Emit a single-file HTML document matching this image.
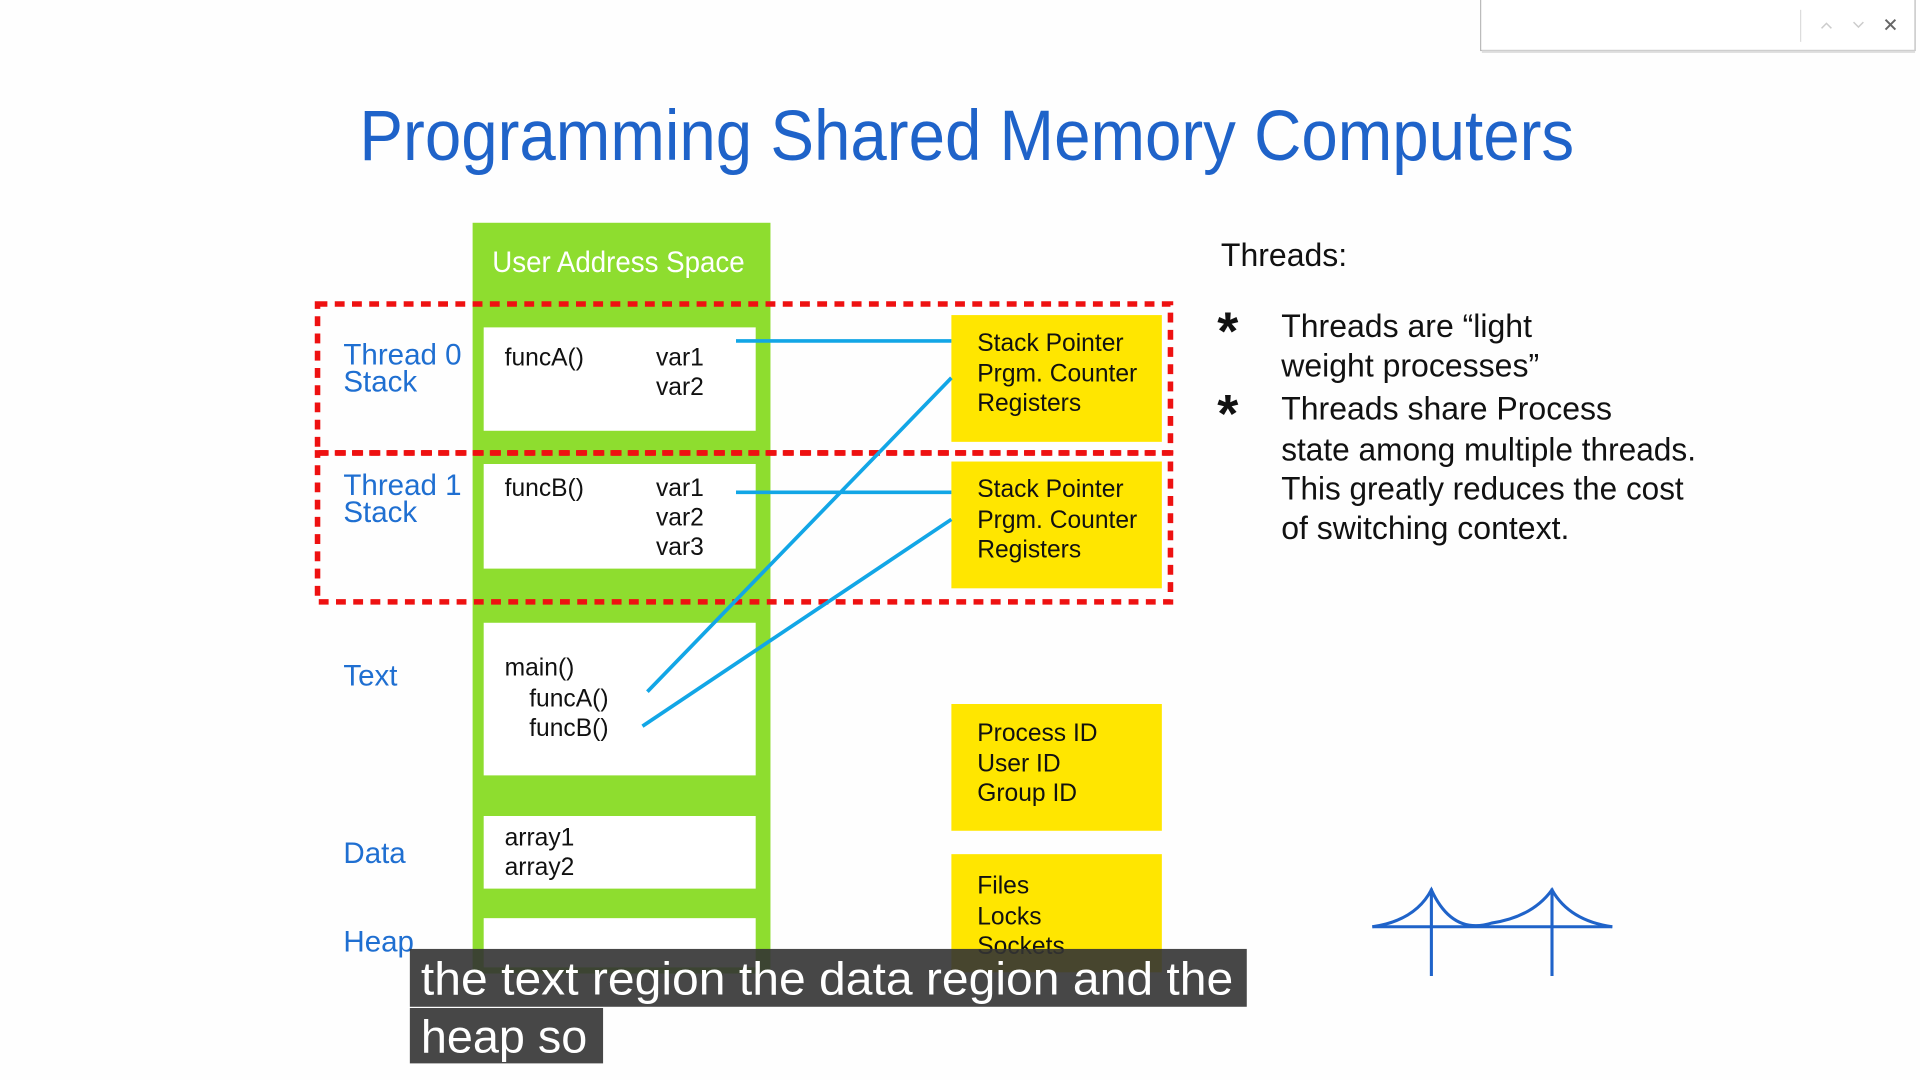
<!DOCTYPE html>
<html><head><meta charset="utf-8"><style>
html,body{margin:0;padding:0;background:#fff;width:1920px;height:1080px;overflow:hidden}
svg{display:block}
text{font-family:"Liberation Sans",sans-serif}
</style></head><body>
<svg width="1920" height="1080" viewBox="0 0 1560 877.5" xmlns="http://www.w3.org/2000/svg">
<rect width="1560" height="878" fill="#fefefe"/>
<rect x="1203" y="-2" width="353" height="43" fill="#fff" stroke="#bbb" stroke-width="1"/>
<rect x="1204" y="41" width="352" height="2" fill="#ddd"/>
<line x1="1463" y1="8" x2="1463" y2="34" stroke="#ddd"/>
<polyline points="1480,23 1484,19 1488,23" fill="none" stroke="#ccc" stroke-width="1.2"/>
<polyline points="1506,18 1510,22 1514,18" fill="none" stroke="#ccc" stroke-width="1.2"/>
<path d="M1532,16 L1540,24 M1540,16 L1532,24" stroke="#666" stroke-width="1.6"/>
<text x="292" y="130" font-size="58" fill="#1f63c9" textLength="987" lengthAdjust="spacingAndGlyphs">Programming Shared Memory Computers</text>
<rect x="384" y="181" width="242" height="610" fill="#8edd2f"/>
<text x="400" y="221" font-size="24" fill="#fff" textLength="205" lengthAdjust="spacingAndGlyphs">User Address Space</text>
<rect x="393" y="266" width="221" height="84" fill="#fff"/>
<rect x="393" y="377" width="221" height="85" fill="#fff"/>
<rect x="393" y="506" width="221" height="124" fill="#fff"/>
<rect x="393" y="663" width="221" height="59" fill="#fff"/>
<rect x="393" y="746" width="221" height="40" fill="#fff"/>
<rect x="773" y="256" width="171" height="103" fill="#ffe600"/>
<rect x="773" y="375" width="171" height="103" fill="#ffe600"/>
<rect x="773" y="572" width="171" height="103" fill="#ffe600"/>
<rect x="773" y="694" width="171" height="96" fill="#ffe600"/>
<g fill="none" stroke="#ee1111" stroke-width="4.5" stroke-dasharray="8 6">
<rect x="258" y="247" width="693" height="121"/>
<rect x="258" y="368" width="693" height="121"/>
</g>
<g stroke="#12a6e6" stroke-width="3">
<line x1="598" y1="277" x2="773" y2="277"/>
<line x1="598" y1="400" x2="773" y2="400"/>
<line x1="526" y1="562" x2="773" y2="307"/>
<line x1="522" y1="590" x2="773" y2="422"/>
</g>
<g font-size="24" fill="#1f6fd1">
<text x="279" y="296">Thread 0</text><text x="279" y="318">Stack</text>
<text x="279" y="402">Thread 1</text><text x="279" y="424">Stack</text>
<text x="279" y="557">Text</text>
<text x="279" y="701">Data</text>
<text x="279" y="773">Heap</text>
</g>
<g font-size="20" fill="#111">
<text x="410" y="297">funcA()</text><text x="533" y="297">var1</text><text x="533" y="321">var2</text>
<text x="410" y="403">funcB()</text><text x="533" y="403">var1</text><text x="533" y="427">var2</text><text x="533" y="451">var3</text>
<text x="410" y="549">main()</text><text x="430" y="574">funcA()</text><text x="430" y="598">funcB()</text>
<text x="410" y="687">array1</text><text x="410" y="711">array2</text>
<text x="794" y="285">Stack Pointer</text><text x="794" y="310">Prgm. Counter</text><text x="794" y="334">Registers</text>
<text x="794" y="404">Stack Pointer</text><text x="794" y="429">Prgm. Counter</text><text x="794" y="453">Registers</text>
<text x="794" y="602">Process ID</text><text x="794" y="627">User ID</text><text x="794" y="651">Group ID</text>
<text x="794" y="726">Files</text><text x="794" y="751">Locks</text><text x="794" y="775">Sockets</text>
</g>
<g font-size="26" fill="#111">
<text x="992" y="216">Threads:</text>
<text x="989" y="284" font-size="44" font-weight="bold">*</text>
<text x="989" y="351" font-size="44" font-weight="bold">*</text>
<text x="1041" y="274">Threads are “light</text>
<text x="1041" y="306">weight processes”</text>
<text x="1041" y="341">Threads share Process</text>
<text x="1041" y="374" textLength="337" lengthAdjust="spacingAndGlyphs">state among multiple threads.</text>
<text x="1041" y="406" textLength="327" lengthAdjust="spacingAndGlyphs">This greatly reduces the cost</text>
<text x="1041" y="438">of switching context.</text>
</g>
<g stroke="#1f63c9" stroke-width="2.5" fill="none">
<line x1="1115" y1="753" x2="1310" y2="753"/>
<line x1="1163" y1="722" x2="1163" y2="793"/>
<line x1="1261" y1="722" x2="1261" y2="793"/>
<path d="M1115,753 Q1150,748 1163,723 Q1180,760 1212,750 Q1245,745 1261,723 Q1275,748 1310,753"/>
</g>
<rect x="333" y="771" width="680" height="47" fill="#333" fill-opacity="0.9"/>
<rect x="333" y="819" width="157" height="45" fill="#333" fill-opacity="0.9"/>
<text x="342" y="808" font-size="38" fill="#fff" textLength="660" lengthAdjust="spacingAndGlyphs">the text region the data region and the</text>
<text x="342" y="855" font-size="38" fill="#fff">heap so</text>
</svg>
</body></html>
